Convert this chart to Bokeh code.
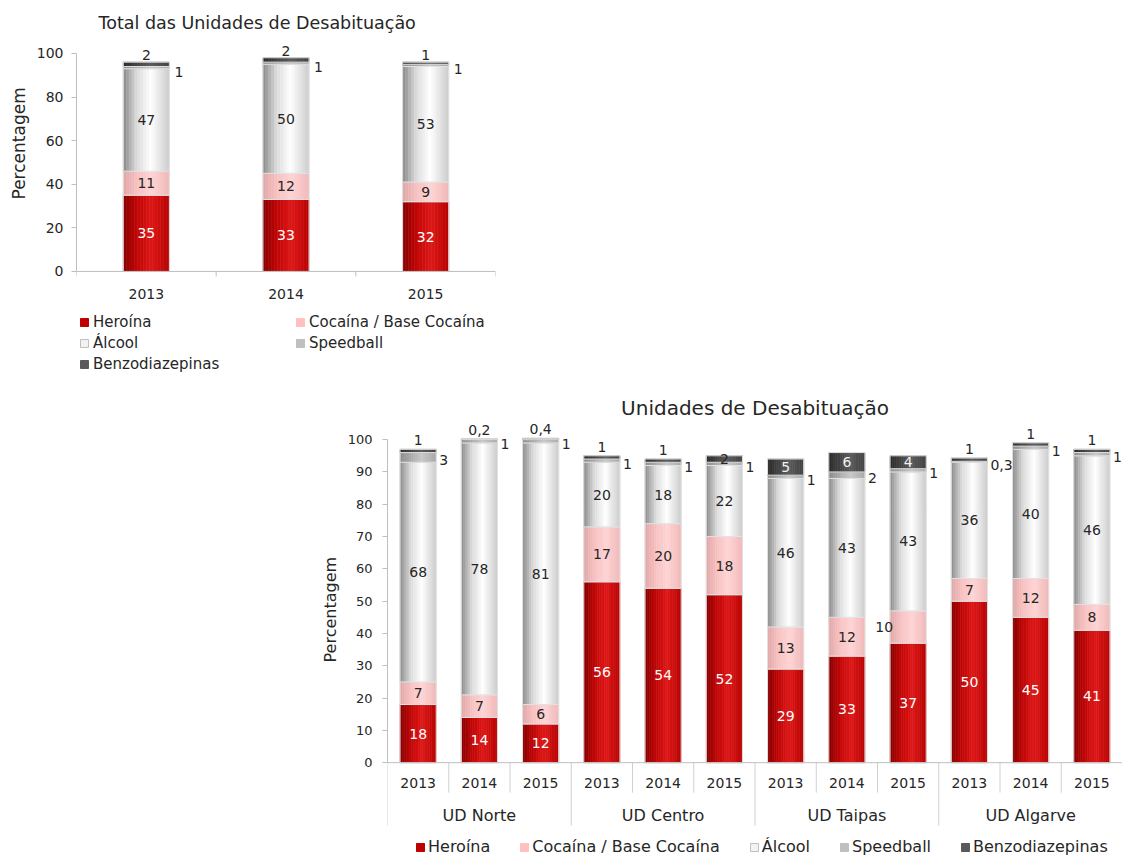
import numpy as np
from bokeh.plotting import figure
from bokeh.models import (ColumnDataSource, FactorRange, Range1d, Legend, LegendItem,
                          FixedTicker, Span, Spacer, Title)
from bokeh.layouts import column, row
from bokeh.transform import dodge
from bokeh.core.properties import value
from bokeh.embed import file_html
from bokeh.resources import INLINE

# ---------------- data ----------------
series_names = ["Heroína", "Cocaína / Base Cocaína", "Álcool", "Speedball", "Benzodiazepinas"]

total_title = "Total das Unidades de Desabituação"
total_years = ["2013", "2014", "2015"]
total_heroina = [35, 33, 32]
total_cocaina = [11, 12, 9]
total_alcool = [47, 50, 53]
total_speedball = [1, 1, 1]
total_benzo = [2, 2, 1]

ud_title = "Unidades de Desabituação"
units = ["UD Norte", "UD Centro", "UD Taipas", "UD Algarve"]
unit_years = ["2013", "2014", "2015"]
ud_heroina = [18, 14, 12, 56, 54, 52, 29, 33, 37, 50, 45, 41]
ud_cocaina = [7, 7, 6, 17, 20, 18, 13, 12, 10, 7, 12, 8]
ud_alcool = [68, 78, 81, 20, 18, 22, 46, 43, 43, 36, 40, 46]
ud_speedball = [3, 1, 1, 1, 1, 1, 1, 2, 1, 0.3, 1, 1]
ud_benzo = [1, 0.2, 0.4, 1, 1, 2, 5, 6, 4, 1, 1, 1]

y_label = "Percentagem"

# ---------------- style ----------------
FONT = "DejaVu Sans"
TXT = "#262626"
AX = "#bfbfbf"
EDGE = "#e2e2e2"
LEGEND_FILL = ["#c00000", "#ffc0c0", "#f2f2f2", "#bfbfbf", "#595959"]
LEGEND_LINE = ["#c00000", "#ffc0c0", "#bfbfbf", "#bfbfbf", "#595959"]
GRAD = [
    [(0.0, "#860000"), (0.3, "#c00505"), (0.62, "#de1818"), (1.0, "#b80202")],
    [(0.0, "#e0a6a6"), (0.3, "#f7c2c2"), (0.62, "#ffd4d4"), (1.0, "#f0b8b8")],
    [(0.0, "#888888"), (0.3, "#dcdcdc"), (0.6, "#ffffff"), (1.0, "#cccccc")],
    [(0.0, "#8a8a8a"), (0.6, "#c8c8c8"), (1.0, "#a8a8a8")],
    [(0.0, "#2a2a2a"), (0.6, "#5a5a5a"), (1.0, "#424242")],
]
NSTRIP = 16


def hex2rgb(h):
    h = h.lstrip("#")
    return [int(h[i:i + 2], 16) for i in (0, 2, 4)]


def interp(stops, t):
    for (t0, c0), (t1, c1) in zip(stops[:-1], stops[1:]):
        if t0 <= t <= t1:
            a = (t - t0) / (t1 - t0) if t1 > t0 else 0
            r0, r1 = hex2rgb(c0), hex2rgb(c1)
            return "#%02x%02x%02x" % tuple(int(round(x + (y - x) * a)) for x, y in zip(r0, r1))
    return stops[-1][1]


def fmt(v):
    return str(int(v)) if float(v).is_integer() else str(v).replace(".", ",")


def stack_data(factors, vals_list):
    data = {"x": factors}
    base = np.zeros(len(factors))
    for k, vals in enumerate(vals_list):
        v = np.array(vals, dtype=float)
        data[f"b{k}"] = base.copy()
        data[f"t{k}"] = base + v
        data[f"c{k}"] = base + v / 2
        data[f"lab{k}"] = [fmt(x) for x in v]
        base = base + v
    return data


def draw_bars(p, src, bw):
    xr = p.x_range
    for k in range(5):
        for i in range(NSTRIP):
            t = (i + 0.5) / NSTRIP
            off = -bw / 2 + (i + 0.5) * bw / NSTRIP
            col = interp(GRAD[k], t)
            p.vbar(x=dodge("x", off, range=xr), width=bw / NSTRIP, bottom=f"b{k}", top=f"t{k}",
                   source=src, fill_color=col, line_color=col, line_width=0.6)
        p.vbar(x="x", width=bw, bottom=f"b{k}", top=f"t{k}", source=src,
               fill_alpha=0, line_color=EDGE, line_width=1)


def style_common(p, tick_step, tick_size, tick_standoff, label_size, label_shift, label_standoff):
    p.grid.visible = False
    p.outline_line_color = None
    p.background_fill_color = "white"
    p.border_fill_color = "white"
    ax = p.yaxis[0]
    ax.bounds = (0, 100)
    ax.ticker = FixedTicker(ticks=list(range(0, 101, tick_step)))
    ax.axis_line_color = AX
    ax.major_tick_line_color = AX
    ax.major_tick_out = 5
    ax.major_tick_in = 0
    ax.minor_tick_line_color = None
    ax.major_label_text_font = FONT
    ax.major_label_text_font_size = tick_size
    ax.major_label_text_color = TXT
    ax.major_label_standoff = tick_standoff
    p.add_layout(Span(location=0, dimension="width", line_color=AX, line_width=1))
    # vertical axis title, shifted up from the frame bottom
    p.add_layout(Title(text=y_label, align="left", offset=label_shift, standoff=label_standoff,
                       text_font=FONT, text_font_size=label_size, text_font_style="normal",
                       text_color=TXT), "left")


def text(p, src, x, y, field, color, size, align="center", xo=0, yo=0, baseline="middle"):
    p.text(x=x, y=y, text=field, source=src, text_font=value(FONT), text_font_size=size,
           text_color=color, text_align=align, text_baseline=baseline, x_offset=xo, y_offset=yo)


def legend_renderers(p, first_factor):
    # swatch-only renderers (no drawable geometry)
    rs = []
    for k in range(5):
        src = ColumnDataSource(dict(x=[first_factor], b=[float("nan")], t=[float("nan")]))
        rs.append(p.vbar(x="x", bottom="b", top="t", width=0.1, source=src,
                         fill_color=LEGEND_FILL[k], line_color=LEGEND_LINE[k]))
    return rs


def style_legend(lg, size):
    lg.border_line_color = None
    lg.background_fill_alpha = 0
    lg.padding = 0
    lg.margin = 0
    lg.glyph_width = 10
    lg.glyph_height = 10
    lg.label_text_font = FONT
    lg.label_text_font_size = size
    lg.label_text_color = TXT

# ================= top chart =================
T_TOP, T_BOT = 105, -50
top_frame_h = 338
p1 = figure(width=515, height=388, x_range=FactorRange(factors=total_years, range_padding=0),
            y_range=Range1d(T_BOT, T_TOP), x_axis_location=None, toolbar_location=None,
            output_backend="svg", min_border_left=76, min_border_right=20,
            min_border_top=42, min_border_bottom=8, title=total_title)
p1.title.text_font = FONT
p1.title.text_font_size = "17.5px"
p1.title.text_font_style = "normal"
p1.title.text_color = TXT
p1.title.align = "left"
p1.title.offset = 22
p1.title.standoff = 19
style_common(p1, 20, "14px", 8, "17px", 181, 10)
px1 = top_frame_h / (T_TOP - T_BOT)

bw1 = 0.33
s1 = ColumnDataSource(stack_data(total_years,
                                 [total_heroina, total_cocaina, total_alcool, total_speedball, total_benzo]))
draw_bars(p1, s1, bw1)
text(p1, s1, "x", "c0", "lab0", "#ffffff", "14px")
text(p1, s1, "x", "c1", "lab1", TXT, "14px")
text(p1, s1, "x", "c2", "lab2", TXT, "14px")
text(p1, s1, dodge("x", bw1 / 2, range=p1.x_range), "c3", "lab3", TXT, "14px", align="left", xo=5, yo=4)
text(p1, s1, "x", "t4", "lab4", TXT, "14px", yo=-7)

# x categories & boundary ticks
xs1 = ColumnDataSource(dict(x=total_years, y=[0] * len(total_years)))
p1.text(x="x", y="y", text="x", source=xs1, text_font=value(FONT), text_font_size="14px",
        text_color=TXT, text_align="center", text_baseline="middle", y_offset=23)
bnd1 = ColumnDataSource(dict(x=total_years))
p1.segment(x0=dodge("x", -0.5, range=p1.x_range), y0=0, x1=dodge("x", -0.5, range=p1.x_range),
           y1=-5 / px1, source=bnd1, line_color=AX)
p1.segment(x0=dodge("x", 0.5, range=p1.x_range), y0=0, x1=dodge("x", 0.5, range=p1.x_range),
           y1=-5 / px1, source=ColumnDataSource(dict(x=total_years[-1:])), line_color=AX)

r1 = legend_renderers(p1, total_years[0])
leg1 = Legend(items=[LegendItem(label=series_names[k], renderers=[r1[k]]) for k in range(5)],
              location=(3, 7), orientation="horizontal", ncols=2)
style_legend(leg1, "15px")
leg1.spacing = 3
leg1.label_standoff = 4
leg1.label_height = 18
leg1.label_width = 199
p1.add_layout(leg1)

# ================= bottom chart =================
B_TOP, B_BOT = 105, -29.05
bot_frame_h = 433
factors = [(u, y) for u in units for y in unit_years]
xr2 = FactorRange(factors=factors, factor_padding=0, group_padding=0, subgroup_padding=0,
                  range_padding=0)
p2 = figure(width=812, height=468, x_range=xr2, y_range=Range1d(B_BOT, B_TOP),
            x_axis_location=None, toolbar_location=None, output_backend="svg",
            min_border_left=77, min_border_right=0, min_border_top=35, min_border_bottom=0,
            title=ud_title)
p2.title.text_font = FONT
p2.title.text_font_size = "20px"
p2.title.text_font_style = "normal"
p2.title.text_color = TXT
p2.title.align = "center"
p2.title.standoff = 7
style_common(p2, 10, "13px", 10, "16px", 194, 9)
px2 = bot_frame_h / (B_TOP - B_BOT)

bw2 = 0.59
d2 = stack_data(factors, [ud_heroina, ud_cocaina, ud_alcool, ud_speedball, ud_benzo])
# label placement tweak (position only): this label sits left of its bar
d2["xo1"] = [-24 if f == ("UD Taipas", "2015") else 0 for f in factors]
s2 = ColumnDataSource(d2)
draw_bars(p2, s2, bw2)
text(p2, s2, "x", "c0", "lab0", "#ffffff", "14px")
p2.text(x="x", y="c1", text="lab1", source=s2, text_font=value(FONT), text_font_size="14px",
        text_color=TXT, text_align="center", text_baseline="middle", x_offset="xo1")
text(p2, s2, "x", "c2", "lab2", TXT, "14px")
text(p2, s2, dodge("x", bw2 / 2, range=xr2), "c3", "lab3", TXT, "14px", align="left", xo=3, yo=3)

benzo_vals = np.array(ud_benzo, dtype=float)
idx_in_white = [i for i, v in enumerate(benzo_vals) if v >= 4]
idx_in_dark = [i for i, v in enumerate(benzo_vals) if 2 <= v < 4]
idx_above = [i for i, v in enumerate(benzo_vals) if v < 2]


def sub(idx):
    return ColumnDataSource({k: [d2[k][i] for i in idx] for k in ("x", "c4", "t4", "lab4")})


text(p2, sub(idx_in_white), "x", "c4", "lab4", "#f2f2f2", "14px")
text(p2, sub(idx_in_dark), "x", "c4", "lab4", TXT, "14px")
text(p2, sub(idx_above), "x", "t4", "lab4", TXT, "14px", yo=-9)

# category labels and separators
xs2 = ColumnDataSource(dict(x=factors, y=[0] * len(factors), t=[f[1] for f in factors]))
p2.text(x="x", y="y", text="t", source=xs2, text_font=value(FONT), text_font_size="14px",
        text_color=TXT, text_align="center", text_baseline="middle", y_offset=20)
mid = [(u, unit_years[len(unit_years) // 2]) for u in units]
gs2 = ColumnDataSource(dict(x=mid, y=[0] * len(units), t=units))
p2.text(x="x", y="y", text="t", source=gs2, text_font=value(FONT), text_font_size="16px",
        text_color=TXT, text_align="center", text_baseline="middle", y_offset=53)
ysep = ColumnDataSource(dict(x=[f for f in factors if f[1] != unit_years[0]]))
p2.segment(x0=dodge("x", -0.5, range=xr2), y0=0, x1=dodge("x", -0.5, range=xr2),
           y1=-30 / px2, source=ysep, line_color="#d0d0d0")
gsep = ColumnDataSource(dict(x=[f for f in factors if f[1] == unit_years[0]]))
p2.segment(x0=dodge("x", -0.5, range=xr2), y0=0, x1=dodge("x", -0.5, range=xr2),
           y1=-63 / px2, source=gsep, line_color="#d0d0d0")

r2 = legend_renderers(p2, factors[0])
leg2 = Legend(items=[LegendItem(label=series_names[k], renderers=[r2[k]]) for k in range(5)],
              location=(28, 0), orientation="horizontal")
style_legend(leg2, "16px")
leg2.spacing = 29
leg2.label_standoff = 3
leg2.label_height = 16
p2.add_layout(leg2)

layout = column(p1, row(Spacer(width=310, height=468), p2))
open("out.html", "w").write(file_html(layout, INLINE))
